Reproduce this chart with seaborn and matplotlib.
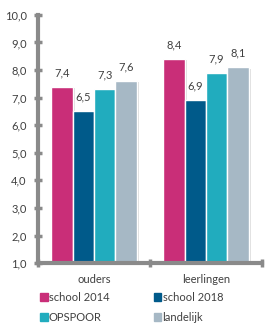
import matplotlib
matplotlib.use("Agg")
import matplotlib.pyplot as plt
import matplotlib.patheffects as pe
import pandas as pd
import seaborn as sns
from matplotlib.ticker import FuncFormatter, FixedLocator

# data
groups = ["ouders", "leerlingen"]
series = ["school 2014", "school 2018", "OPSPOOR", "landelijk"]
school_2014 = [7.4, 8.4]
school_2018 = [6.5, 6.9]
opspoor = [7.3, 7.9]
landelijk = [7.6, 8.1]
colors = ["#C92E78", "#005A8A", "#21ACBE", "#A6B8C5"]

df = pd.DataFrame({
    "groep": groups * 4,
    "reeks": [s for s in series for _ in groups],
    "score": school_2014 + school_2018 + opspoor + landelijk,
})

sns.set_style("white")
plt.rcParams["font.family"] = ["Lato", "DejaVu Sans"]
txt = "#404040"
axis_grey = "#8A8A8A"

fig = plt.figure(figsize=(2.65, 3.24), dpi=100)
ax = fig.add_axes([0.143, 0.188, 0.846, 0.766])

sns.barplot(
    data=df, x="groep", y="score", hue="reeks",
    order=groups, hue_order=series, palette=colors,
    width=0.76, errorbar=None, saturation=1, ax=ax, legend=False
)

# value labels with comma decimals, plus a soft shadow on the bars
for container in ax.containers:
    for bar in container:
        bar.set_path_effects([pe.SimplePatchShadow(offset=(1.5, -1), shadow_rgbFace="#999999", alpha=0.35),
                              pe.Normal()])
        h = bar.get_height()
        ax.annotate(f"{h:.1f}".replace(".", ","),
                    (bar.get_x() + bar.get_width() / 2, h),
                    xytext=(0, 14), textcoords="offset pixels",
                    ha="center", va="center", fontsize=8, color=txt)

ax.set_ylim(1, 10)
ax.set_xlim(-0.5, 1.5)
ax.set_yticks(range(1, 11))
ax.yaxis.set_major_formatter(FuncFormatter(lambda v, p: f"{v:.1f}".replace(".", ",")))
ax.xaxis.set_minor_locator(FixedLocator([-0.5, 0.5, 1.5]))
ax.tick_params(which="both", bottom=True, left=True)
ax.tick_params(axis="x", which="major", length=0, pad=8, labelsize=8, labelcolor=txt)
ax.tick_params(axis="x", which="minor", length=6, width=2.5, color=axis_grey, direction="inout")
ax.tick_params(axis="y", length=6, width=2.5, color=axis_grey, direction="inout",
               labelsize=8, labelcolor=txt, pad=5)
ax.set_xlabel("")
ax.set_ylabel("")

for side in ["top", "right"]:
    ax.spines[side].set_visible(False)
for side in ["left", "bottom"]:
    ax.spines[side].set_color(axis_grey)
    ax.spines[side].set_linewidth(3)

# legend filled row by row like the original: 2014, 2018 / OPSPOOR, landelijk
handles = [plt.Rectangle((0, 0), 1, 1, color=c) for c in colors]
order = [0, 2, 1, 3]
fig.legend([handles[i] for i in order], [series[i] for i in order], ncol=2,
           loc="upper left", bbox_to_anchor=(0.15, 0.098),
           frameon=False, fontsize=8, handlelength=0.7, handleheight=0.7,
           handletextpad=0.1, columnspacing=4.0, labelspacing=0.8,
           labelcolor=txt, borderaxespad=0, borderpad=0)

fig.savefig("out.png", dpi=100)
